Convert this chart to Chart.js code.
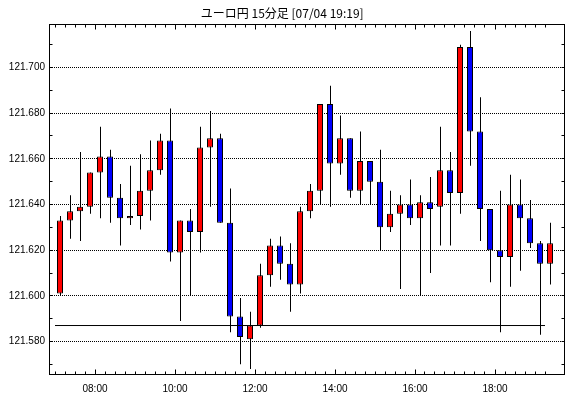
<!DOCTYPE html>
<html>
<head>
<meta charset="utf-8">
<script src="https://cdn.jsdelivr.net/npm/chart.js@4"></script>
<style>
  html, body { margin: 0; padding: 0; background: #fff; }
  canvas { display: block; }
</style>
</head>
<body>
<canvas id="chart" width="570" height="398"></canvas>
<script>
const chartTitle = 'ユーロ円 15分足 [07/04 19:19]';

// 15分足 start times
const times = [
  '07:00', '07:15', '07:30', '07:45', '08:00', '08:15', '08:30', '08:45',
  '09:00', '09:15', '09:30', '09:45', '10:00', '10:15', '10:30', '10:45',
  '11:00', '11:15', '11:30', '11:45', '12:00', '12:15', '12:30', '12:45',
  '13:00', '13:15', '13:30', '13:45', '14:00', '14:15', '14:30', '14:45',
  '15:00', '15:15', '15:30', '15:45', '16:00', '16:15', '16:30', '16:45',
  '17:00', '17:15', '17:30', '17:45', '18:00', '18:15', '18:30', '18:45',
  '19:00', '19:15'
];
const opens = [
  121.601, 121.633, 121.637, 121.639, 121.654, 121.661, 121.643, 121.634,
  121.635, 121.646, 121.655, 121.668, 121.619, 121.633, 121.628, 121.665,
  121.669, 121.632, 121.591, 121.581, 121.587, 121.609, 121.622, 121.614,
  121.605, 121.637, 121.646, 121.684, 121.658, 121.669, 121.646, 121.659,
  121.650, 121.630, 121.636, 121.640, 121.634, 121.641, 121.639, 121.655,
  121.645, 121.709, 121.672, 121.638, 121.620, 121.617, 121.640, 121.634,
  121.623, 121.614
];
const highs = [
  121.635, 121.644, 121.663, 121.654, 121.674, 121.664, 121.649, 121.657,
  121.662, 121.668, 121.671, 121.682, 121.633, 121.638, 121.674, 121.681,
  121.671, 121.647, 121.599, 121.593, 121.614, 121.625, 121.626, 121.623,
  121.639, 121.649, 121.684, 121.692, 121.679, 121.669, 121.672, 121.659,
  121.664, 121.646, 121.644, 121.651, 121.644, 121.652, 121.674, 121.663,
  121.710, 121.716, 121.687, 121.638, 121.646, 121.653, 121.651, 121.642,
  121.624, 121.632
];
const lows = [
  121.600, 121.625, 121.624, 121.636, 121.634, 121.632, 121.622, 121.631,
  121.629, 121.633, 121.653, 121.615, 121.589, 121.600, 121.619, 121.639,
  121.632, 121.584, 121.570, 121.568, 121.586, 121.604, 121.607, 121.593,
  121.601, 121.634, 121.640, 121.639, 121.653, 121.643, 121.640, 121.640,
  121.620, 121.628, 121.603, 121.631, 121.600, 121.610, 121.622, 121.622,
  121.636, 121.657, 121.624, 121.606, 121.584, 121.604, 121.611, 121.621,
  121.583, 121.605
];
const closes = [
  121.633, 121.637, 121.639, 121.654, 121.661, 121.643, 121.634, 121.635,
  121.646, 121.655, 121.668, 121.619, 121.633, 121.628, 121.665, 121.669,
  121.632, 121.591, 121.582, 121.587, 121.609, 121.622, 121.614, 121.605,
  121.637, 121.646, 121.684, 121.658, 121.669, 121.646, 121.659, 121.650,
  121.630, 121.636, 121.640, 121.634, 121.641, 121.638, 121.655, 121.645,
  121.709, 121.672, 121.638, 121.620, 121.617, 121.640, 121.634, 121.623,
  121.614, 121.623
];

const yTicks = [121.58, 121.60, 121.62, 121.64, 121.66, 121.68, 121.70];
const xTickHours = [8, 10, 12, 14, 16, 18];
const xTickLabels = ['08:00', '10:00', '12:00', '14:00', '16:00', '18:00'];

// horizontal reference line
const refPrice = 121.587;
const refFrom = '07:00';
const refTo = '19:15';

function hrs(t) {
  const [h, m] = t.split(':').map(Number);
  return h + m / 60;
}
// candle sits in the middle of its 15 min slot
const xs = times.map(t => hrs(t) + 0.125);

const UP = '#ff0000';
const DOWN = '#0000ff';
const X_MIN = 6.8625, X_MAX = 19.7375;
const Y_MIN = 121.56555, Y_MAX = 121.71883;

const framePlugin = {
  id: 'frame',
  afterDraw(chart) {
    const { ctx, chartArea: a, scales } = chart;
    const x = scales.x, y = scales.y;
    const snap = p => Math.floor(p) + 0.5;
    ctx.save();
    ctx.strokeStyle = '#000';
    ctx.lineWidth = 1;
    ctx.setLineDash([]);
    ctx.strokeRect(a.left, a.top, a.right - a.left, a.bottom - a.top);
    ctx.beginPath();
    times.forEach(t => {
      const h = hrs(t);
      const px = snap(x.getPixelForValue(h));
      const len = xTickHours.includes(h) ? 5 : 3;
      ctx.moveTo(px, a.bottom); ctx.lineTo(px, a.bottom - len);
      ctx.moveTo(px, a.top); ctx.lineTo(px, a.top + len);
    });
    for (let v = 121.57; v < Y_MAX; v += 0.01) {
      const py = snap(y.getPixelForValue(v));
      ctx.moveTo(a.left, py); ctx.lineTo(a.left + 3, py);
      ctx.moveTo(a.right, py); ctx.lineTo(a.right - 3, py);
    }
    ctx.stroke();
    ctx.restore();
  }
};

const tickFont = { family: "'Liberation Sans', Arial, sans-serif", size: 10 };

new Chart(document.getElementById('chart').getContext('2d'), {
  type: 'bar',
  data: {
    datasets: [
      {
        type: 'line',
        data: [{ x: hrs(refFrom), y: refPrice }, { x: hrs(refTo), y: refPrice }],
        borderColor: '#000',
        borderWidth: 1,
        pointRadius: 0,
        xAxisID: 'x',
        order: 0
      },
      {
        data: xs.map((x, i) => ({ x: x, y: [opens[i], closes[i]] })),
        backgroundColor: closes.map((c, i) => c >= opens[i] ? UP : DOWN),
        borderColor: '#000',
        borderWidth: 1,
        borderSkipped: false,
        inflateAmount: 0,
        barThickness: 6,
        grouped: false,
        xAxisID: 'x',
        order: 1
      },
      {
        data: xs.map((x, i) => ({ x: x, y: [lows[i], highs[i]] })),
        backgroundColor: '#000',
        borderWidth: 0,
        inflateAmount: 0,
        barThickness: 1,
        grouped: false,
        xAxisID: 'xw',
        order: 2
      }
    ]
  },
  options: {
    responsive: false,
    animation: false,
    events: [],
    layout: { padding: { left: 0, right: 5.5, top: 0, bottom: 0 } },
    plugins: {
      legend: { display: false },
      tooltip: { enabled: false },
      title: {
        display: true,
        text: chartTitle,
        color: '#000',
        font: { family: "'Noto Sans CJK JP', sans-serif", size: 12, weight: 'normal' },
        padding: { top: 6, bottom: 4.1 }
      }
    },
    scales: {
      x: {
        type: 'linear',
        position: 'bottom',
        min: X_MIN,
        max: X_MAX,
        offset: false,
        grid: { display: false, offset: false },
        border: { display: false },
        afterBuildTicks: s => { s.ticks = xTickHours.map(v => ({ value: v })); },
        afterFit: s => { s.height = 23.5; },
        ticks: {
          autoSkip: false,
          maxRotation: 0,
          padding: 1,
          color: '#000',
          font: tickFont,
          callback: (v, i) => xTickLabels[i]
        }
      },
      xw: {
        type: 'linear',
        display: false,
        min: X_MIN - 0.0125,
        max: X_MAX - 0.0125,
        offset: false
      },
      y: {
        type: 'linear',
        position: 'left',
        min: Y_MIN,
        max: Y_MAX,
        grid: { color: '#000', lineWidth: 1, drawTicks: false },
        border: { display: false, dash: [1, 1], dashOffset: 0 },
        afterBuildTicks: s => { s.ticks = yTicks.map(v => ({ value: v })); },
        afterFit: s => { s.width = 49.5; },
        ticks: {
          padding: 4.5,
          color: '#000',
          font: tickFont,
          callback: v => v.toFixed(3)
        }
      }
    }
  },
  plugins: [framePlugin]
});
</script>
</body>
</html>
